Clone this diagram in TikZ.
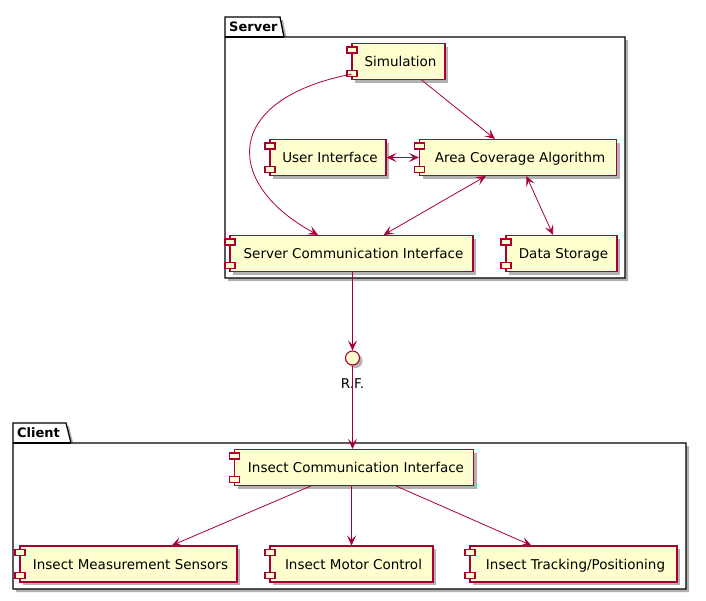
\documentclass[tikz,border=0pt]{standalone}
\usepackage{fontspec}
\setmainfont{DejaVu Sans}
\usetikzlibrary{arrows.meta,shadows}
\definecolor{umlred}{HTML}{A80036}
\definecolor{umlfill}{HTML}{FEFECE}

\begin{document}
\begin{tikzpicture}[
    x=1pt, y=-1pt,
    shade/.style={drop shadow={shadow xshift=3pt, shadow yshift=-3pt, opacity=0.3, fill=black}},
    plug/.style={draw=umlred, fill=umlfill, line width=1.1pt},
    comp/.style={draw=umlred, fill=umlfill, line width=1.1pt, minimum height=36pt, inner sep=0pt,
        text depth=0pt, font=\fontsize{13.5}{16}\selectfont, shade},
    pkg/.style={draw=black, line width=1.3pt, fill=white, shade},
    pkgname/.style={anchor=west, inner sep=0pt, font=\bfseries\fontsize{13}{15}\selectfont},
    port/.style={circle, draw=umlred, fill=umlfill, line width=1.1pt, minimum size=14pt, inner sep=0pt, shade},
    arr/.style={umlred, line width=0.8pt, -{Stealth[length=10pt, width=9pt, inset=4.5pt]}},
    biarr/.style={umlred, line width=0.8pt, {Stealth[length=10pt, width=9pt, inset=4.5pt]}-{Stealth[length=10pt, width=9pt, inset=4.5pt]}}
]
\useasboundingbox (0,0) rectangle (706,600);

% Server package
\draw[pkg] (225,17) -- (280,17) -- (284,37) -- (625,37) -- (625,278) -- (225,278) -- cycle;
\draw[line width=1.3pt] (225,37) -- (284,37);
\node[pkgname] (server) at (229,27) {Server};

% Client package
\draw[pkg] (13,423) -- (66,423) -- (71,443) -- (686,443) -- (686,589) -- (13,589) -- cycle;
\draw[line width=1.3pt] (13,443) -- (71,443);
\node[pkgname] (client) at (17,433) {Client};

% server components
\node[comp, minimum width=93pt] (sim) at (398.5,61.5) {\hspace{4pt}Simulation};
\node[comp, minimum width=116pt] (ui) at (328,157.5) {\hspace{4pt}User Interface};
\node[comp, minimum width=197pt] (aca) at (518,157.5) {\hspace{4pt}Area Coverage Algorithm};
\node[comp, minimum width=243pt] (sci) at (351.5,253.5) {\hspace{4pt}Server Communication Interface};
\node[comp, minimum width=111pt] (ds) at (561.5,253.5) {\hspace{4pt}Data Storage};

% interface
\node[port] (rf) at (352.5,358) {};
\node[font=\fontsize{13.5}{16}\selectfont, inner sep=1pt] (rflabel) at (352.5,384) {R.F.};

% client components
\node[comp, minimum width=239pt] (ici) at (354,467.5) {\hspace{4pt}Insect Communication Interface};
\node[comp, minimum width=217pt] (ims) at (128.5,564) {\hspace{4pt}Insect Measurement Sensors};
\node[comp, minimum width=163pt] (imc) at (351.5,564) {\hspace{4pt}Insect Motor Control};
\node[comp, minimum width=207pt] (itp) at (573.5,564) {\hspace{4pt}Insect Tracking/Positioning};

% component plugs
\foreach \n in {sim,ui,aca,sci,ds,ici,ims,imc,itp} {
    \draw[plug] ([shift={(-4.5pt,-4pt)}]\n.north west) rectangle ++(10pt,-6pt);
    \draw[plug] ([shift={(-4.5pt,4pt)}]\n.south west) rectangle ++(10pt,6pt);
}

% connectors
\draw[arr] (sim) -- (aca);
\draw[arr] (sim.195) .. controls (220,100) and (225,185) .. (sci.151);
\draw[biarr] (ui) -- (aca);
\draw[biarr] (aca) -- (sci);
\draw[biarr] (aca) -- (ds);
\draw[arr] (rf |- sci.south) -- (rf);
\draw[arr] (rf) -- (rf |- ici.north);
\draw[arr] (ici) -- (ims);
\draw[arr] (ici.south -| imc) -- (imc);
\draw[arr] (ici) -- (itp);

\end{tikzpicture}
\end{document}
